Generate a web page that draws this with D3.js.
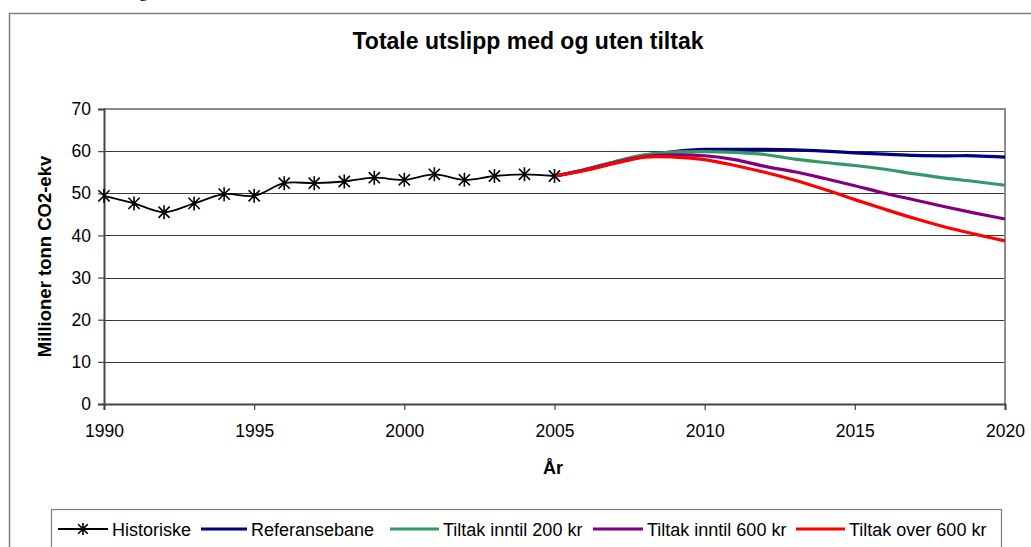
<!DOCTYPE html>
<html>
<head>
<meta charset="utf-8">
<script src="https://cdn.jsdelivr.net/npm/d3@7"></script>
<style>
  body { margin: 0; background: #fff; }
  svg { display: block; font-family: "Liberation Sans", Arial, sans-serif; }
</style>
</head>
<body>
<div id="chart"></div>
<script>
// Data

var histYears = d3.range(1990, 2006);
var historiske = [49.4, 47.6, 45.5, 47.6, 49.8, 49.4, 52.4, 52.4, 52.8, 53.7, 53.2, 54.5, 53.2, 54.1, 54.5, 54.1];

var projYears = d3.range(2005, 2021);
var referansebane = [54.1, 55.6, 57.4, 59.0, 59.9, 60.4, 60.4, 60.4, 60.3, 60.0, 59.6, 59.3, 59.0, 58.9, 58.9, 58.6];
var tiltak200 = [54.1, 55.6, 57.5, 59.1, 59.8, 59.9, 59.7, 59.2, 58.1, 57.3, 56.6, 55.7, 54.6, 53.6, 52.8, 51.9];
var tiltak600 = [54.1, 55.5, 57.3, 58.7, 59.1, 58.9, 58.0, 56.4, 55.1, 53.5, 51.8, 50.0, 48.4, 46.8, 45.3, 43.9];
var tiltakOver600 = [54.1, 55.4, 57.1, 58.6, 58.6, 58.0, 56.6, 55.0, 53.1, 50.9, 48.5, 46.2, 44.0, 42.0, 40.3, 38.7];

var yTicks = [0, 10, 20, 30, 40, 50, 60, 70];
var xTicks = [1990, 1995, 2000, 2005, 2010, 2015, 2020];

var seriesNames = ['Referansebane', 'Tiltak inntil 200 kr', 'Tiltak inntil 600 kr', 'Tiltak over 600 kr'];
var seriesValues = [referansebane, tiltak200, tiltak600, tiltakOver600];
var seriesColors = ['#000080', '#339966', '#800080', '#ff0000'];

// SVG setup

var svgWidth = 1031;
var svgHeight = 547;

var svg = d3.select('#chart')
  .append('svg')
  .attr('width', svgWidth)
  .attr('height', svgHeight);

// outer frame (only the left and top edges are in view)
svg.append('path')
  .attr('d', 'M9.5,' + svgHeight + 'V13.5H' + svgWidth)
  .attr('fill', 'none')
  .attr('stroke', '#7f7f7f')
  .attr('stroke-width', 1.5);

// fragment of text above the frame (cut off in the reference too)
svg.append('text')
  .attr('x', 139)
  .attr('y', -3)
  .style('font-family', '"Liberation Serif", serif')
  .style('font-size', '18px')
  .text('g');

var plot = { left: 104, right: 1005, top: 109, bottom: 404 };

var x = d3.scaleLinear().domain([1990, 2020]).range([plot.left, plot.right]);
var y = d3.scaleLinear().domain([0, 70]).range([plot.bottom, plot.top]);

// gridlines
svg.append('g')
  .selectAll('line')
  .data(yTicks.filter(function (d) { return d > 0 && d < 70; }))
  .enter()
  .append('line')
  .attr('x1', plot.left)
  .attr('x2', plot.right)
  .attr('y1', function (d) { return Math.round(y(d)) + 0.5; })
  .attr('y2', function (d) { return Math.round(y(d)) + 0.5; })
  .attr('stroke', '#3a3a3a')
  .attr('stroke-width', 1);

// plot border top + right (grey)
svg.append('path')
  .attr('d', 'M' + plot.left + ',' + plot.top + 'H' + plot.right + 'V' + plot.bottom)
  .attr('fill', 'none')
  .attr('stroke', '#8c8c8c')
  .attr('stroke-width', 2);

// axes
var yAxis = d3.axisLeft(y).tickValues(yTicks).tickSize(6).tickPadding(7);
var xAxis = d3.axisBottom(x).tickValues(xTicks).tickFormat(d3.format('d')).tickSize(6).tickPadding(15);

var gy = svg.append('g').attr('transform', 'translate(' + plot.left + ',0)').call(yAxis);
var gx = svg.append('g').attr('transform', 'translate(0,' + plot.bottom + ')').call(xAxis);

[gx, gy].forEach(function (g) {
  g.select('.domain').attr('stroke', '#444').attr('stroke-width', 2);
  g.selectAll('.tick line').attr('stroke', '#444').attr('stroke-width', 1.2);
  g.selectAll('.tick text')
    .attr('fill', '#000')
    .style('font-family', '"Liberation Sans", Arial, sans-serif')
    .style('font-size', '17.5px');
});

// title + axis titles
svg.append('text')
  .attr('x', 528)
  .attr('y', 49)
  .attr('text-anchor', 'middle')
  .style('font-weight', 'bold')
  .style('font-size', '23px')
  .text('Totale utslipp med og uten tiltak');

svg.append('text')
  .attr('transform', 'translate(51,' + ((plot.top + plot.bottom) / 2) + ') rotate(-90)')
  .attr('text-anchor', 'middle')
  .style('font-weight', 'bold')
  .style('font-size', '18.5px')
  .text('Millioner tonn CO2-ekv');

svg.append('text')
  .attr('x', 553)
  .attr('y', 474)
  .attr('text-anchor', 'middle')
  .style('font-weight', 'bold')
  .style('font-size', '18px')
  .text('År');

// lines

var line = d3.line()
  .x(function (d) { return x(d[0]); })
  .y(function (d) { return y(d[1]); })
  .curve(d3.curveCatmullRom.alpha(0.5));

svg.append('path')
  .datum(d3.zip(histYears, historiske))
  .attr('d', line)
  .attr('fill', 'none')
  .attr('stroke', '#000')
  .attr('stroke-width', 1.8);

seriesValues.forEach(function (vals, i) {
  svg.append('path')
    .datum(d3.zip(projYears, vals))
    .attr('d', line)
    .attr('fill', 'none')
    .attr('stroke', seriesColors[i])
    .attr('stroke-width', 3.2);
});

// asterisk markers
function star(g, cx, cy, r) {
  var a = r * 0.8;
  g.append('path')
    .attr('d', 'M' + (cx - a) + ',' + (cy - a) + 'L' + (cx + a) + ',' + (cy + a) +
      'M' + (cx - a) + ',' + (cy + a) + 'L' + (cx + a) + ',' + (cy - a) +
      'M' + cx + ',' + (cy - r) + 'V' + (cy + r))
    .attr('stroke', '#000')
    .attr('stroke-width', 1.6)
    .attr('fill', 'none');
}

var markers = svg.append('g');
histYears.forEach(function (yr, i) {
  star(markers, x(yr), y(historiske[i]), 7);
});

// legend

var legend = svg.append('g');
legend.append('rect')
  .attr('x', 51.5)
  .attr('y', 509.5)
  .attr('width', 950)
  .attr('height', 40)
  .attr('fill', '#fff')
  .attr('stroke', '#7f7f7f')
  .attr('stroke-width', 1.2);

var legendItems = [
  { name: 'Historiske', color: '#000', x0: 58, x1: 108, w: 1.8, star: true },
  { name: seriesNames[0], color: seriesColors[0], x0: 201, x1: 247, w: 3.2 },
  { name: seriesNames[1], color: seriesColors[1], x0: 390, x1: 439, w: 3.2 },
  { name: seriesNames[2], color: seriesColors[2], x0: 593, x1: 643, w: 3.2 },
  { name: seriesNames[3], color: seriesColors[3], x0: 796, x1: 845, w: 3.2 }
];

legendItems.forEach(function (d) {
  legend.append('line')
    .attr('x1', d.x0).attr('x2', d.x1)
    .attr('y1', 529).attr('y2', 529)
    .attr('stroke', d.color)
    .attr('stroke-width', d.w);
  if (d.star) star(legend, (d.x0 + d.x1) / 2, 529, 6);
  legend.append('text')
    .attr('x', d.x1 + 4)
    .attr('y', 536)
    .style('font-size', '18px')
    .text(d.name);
});
</script>
</body>
</html>
